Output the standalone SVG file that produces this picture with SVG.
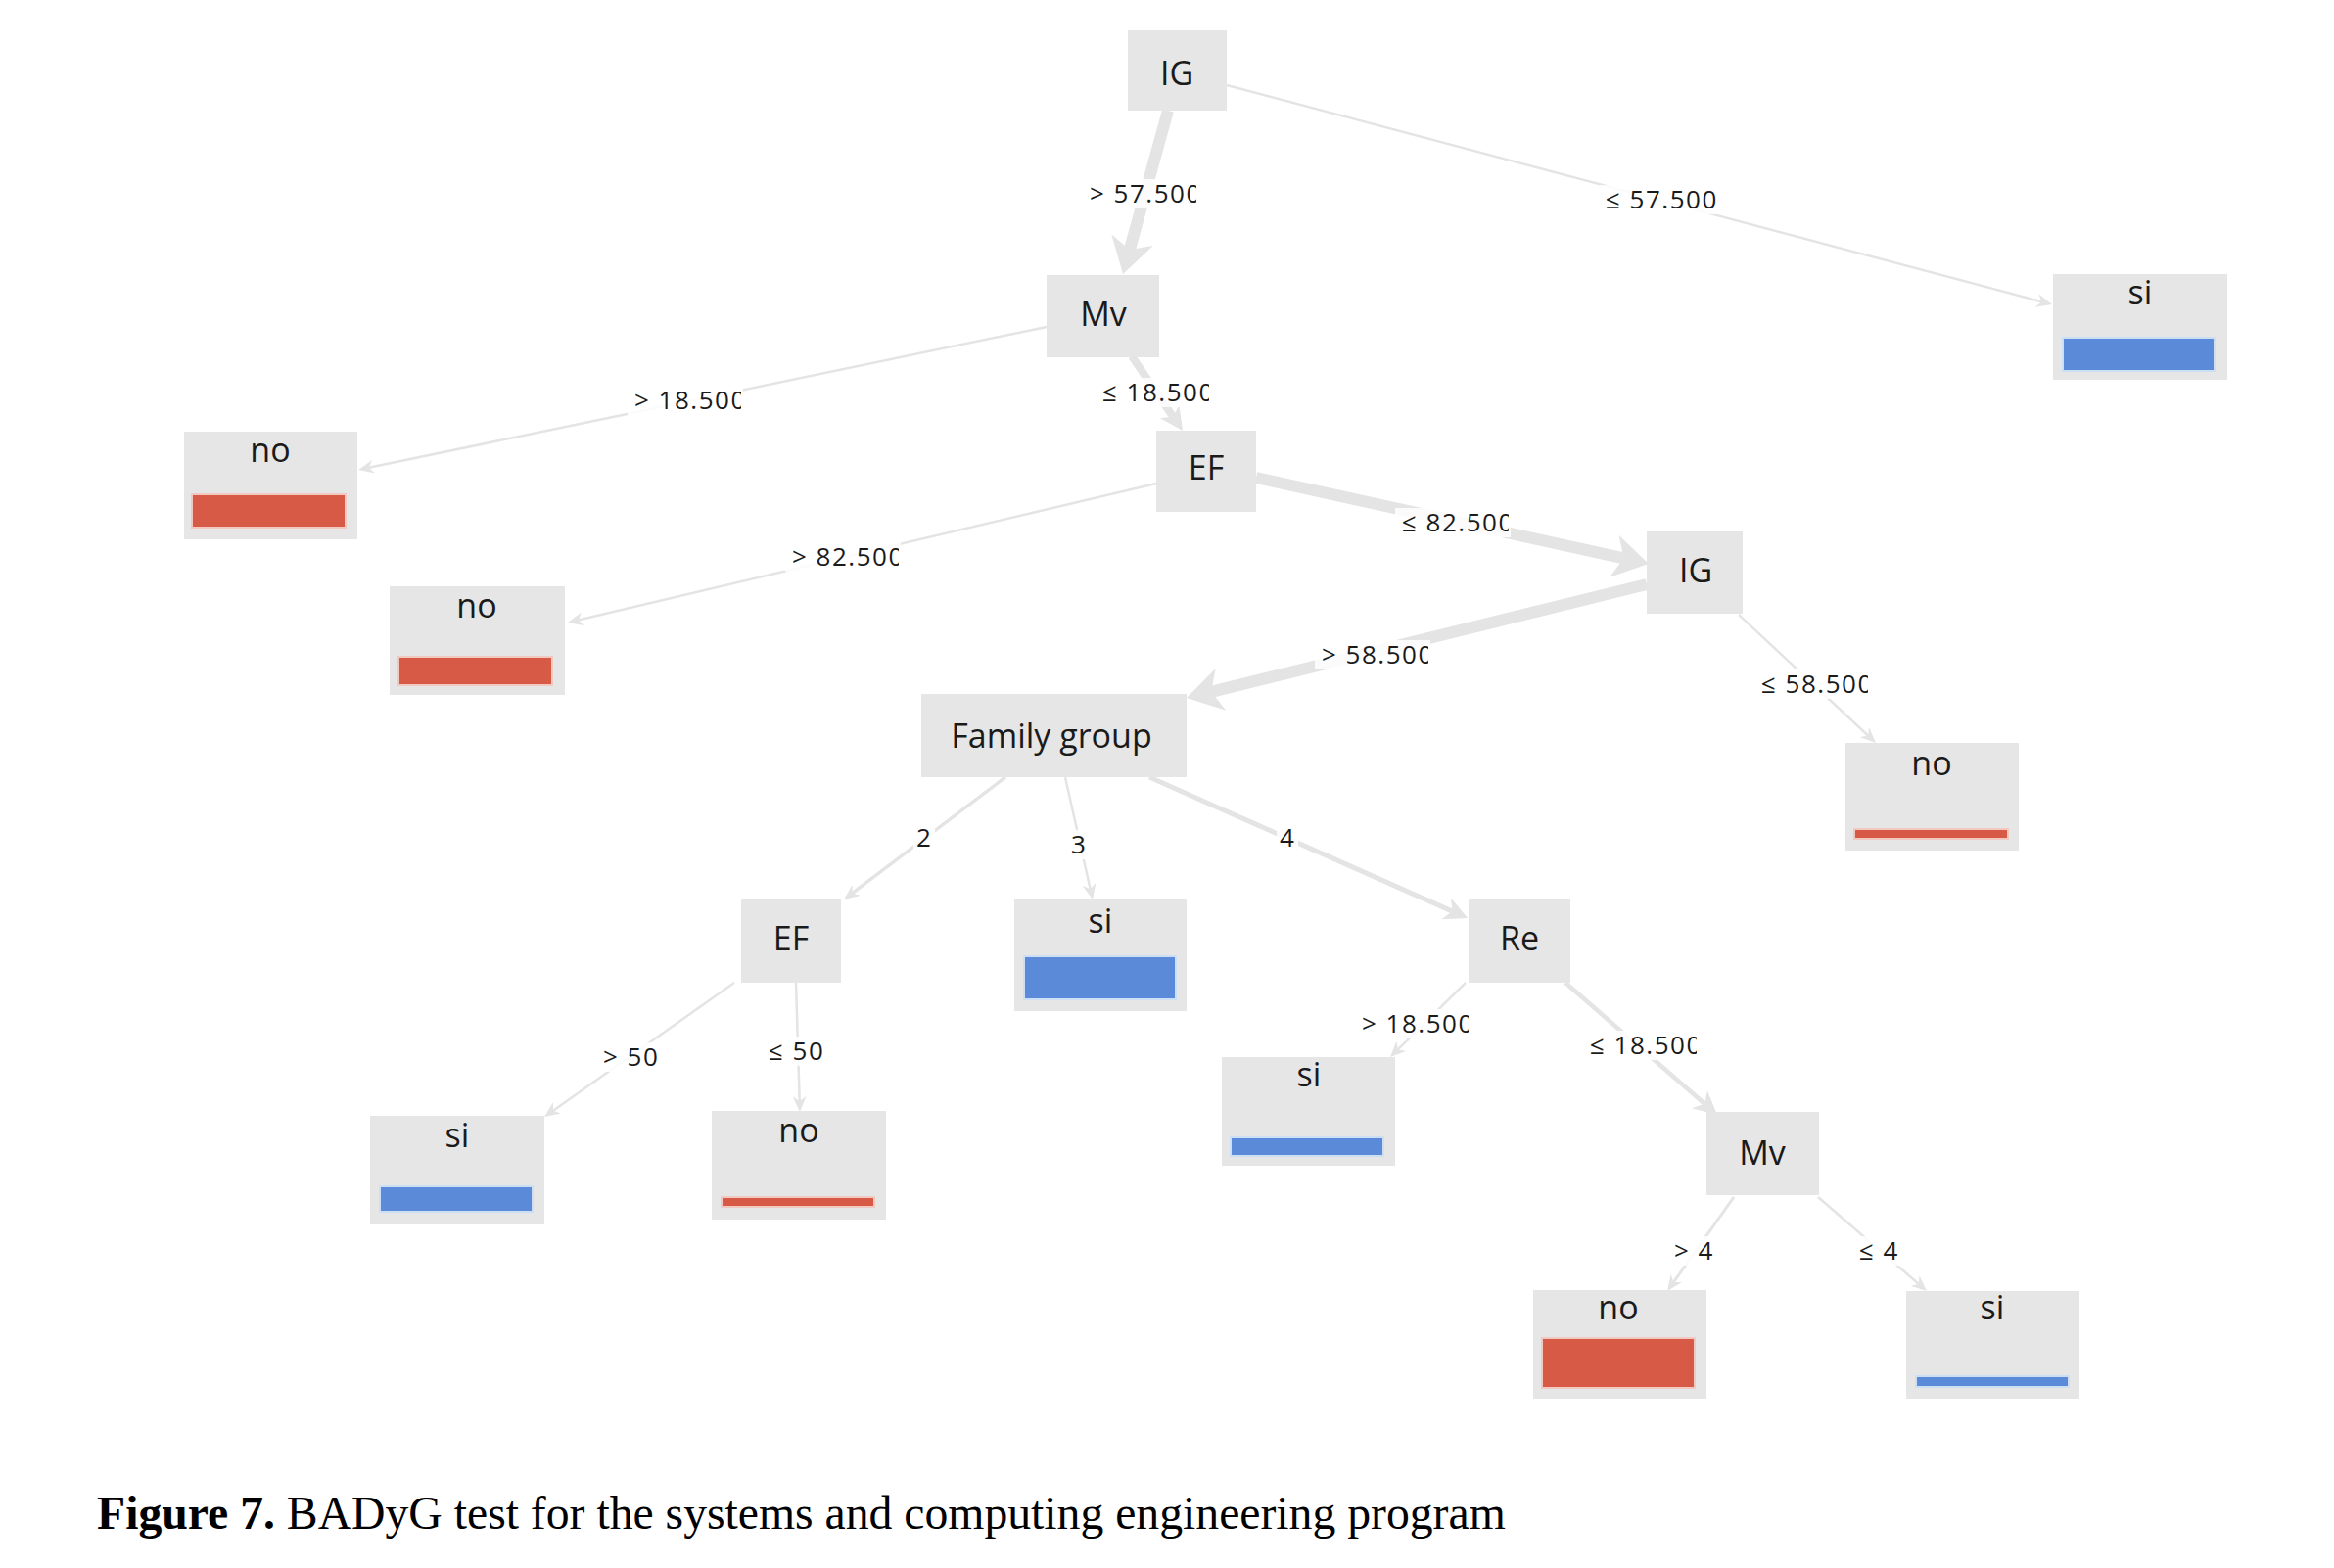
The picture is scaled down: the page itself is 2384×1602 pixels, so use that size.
<svg xmlns="http://www.w3.org/2000/svg" width="2384" height="1602" viewBox="0 0 2384 1602">
<style>
.node{fill:#e6e6e6}
.nl{font-family:"Open Sans","Liberation Sans",sans-serif;font-size:34px;fill:#1a1a1a;text-anchor:middle}
.el{font-family:"Open Sans","Liberation Sans",sans-serif;font-size:26px;letter-spacing:1.5px;fill:#1a1a1a}
.eb{fill:#ffffff;opacity:0.85}
.e{stroke:#e4e4e4;fill:none;stroke-linecap:butt}
.red{fill:#d65a46;stroke:#f2c9c1;stroke-width:2}
.blue{fill:#5b8ad8;stroke:#cddff5;stroke-width:2}
.cap{font-family:"Liberation Serif","Times New Roman",serif;font-size:47.7px;fill:#000}
</style>
<defs>
<marker id="aThick" markerUnits="userSpaceOnUse" markerWidth="36" markerHeight="44" viewBox="0 0 36 44" refX="10" refY="22" orient="auto"><path d="M0,0 L36,22 L0,44 L10,22 z" fill="#e4e4e4"/></marker>
<marker id="aMid" markerUnits="userSpaceOnUse" markerWidth="24" markerHeight="24" viewBox="0 0 24 24" refX="7" refY="12" orient="auto"><path d="M0,0 L24,12 L0,24 L7,12 z" fill="#e4e4e4"/></marker>
<marker id="aThin" markerUnits="userSpaceOnUse" markerWidth="16" markerHeight="14" viewBox="0 0 16 14" refX="5" refY="7" orient="auto"><path d="M0,0 L16,7 L0,14 L5,7 z" fill="#e4e4e4"/></marker>
<clipPath id="c1" clipPathUnits="userSpaceOnUse"><rect x="1103" y="177" width="119" height="40"/></clipPath>
<clipPath id="c3" clipPathUnits="userSpaceOnUse"><rect x="638" y="388" width="119" height="40"/></clipPath>
<clipPath id="c4" clipPathUnits="userSpaceOnUse"><rect x="1116" y="380" width="119" height="40"/></clipPath>
<clipPath id="c5" clipPathUnits="userSpaceOnUse"><rect x="799" y="548" width="119" height="40"/></clipPath>
<clipPath id="c6" clipPathUnits="userSpaceOnUse"><rect x="1422" y="513" width="119" height="40"/></clipPath>
<clipPath id="c7" clipPathUnits="userSpaceOnUse"><rect x="1340" y="648" width="119" height="40"/></clipPath>
<clipPath id="c8" clipPathUnits="userSpaceOnUse"><rect x="1789" y="678" width="119" height="40"/></clipPath>
<clipPath id="c14" clipPathUnits="userSpaceOnUse"><rect x="1381" y="1025" width="119" height="40"/></clipPath>
<clipPath id="c15" clipPathUnits="userSpaceOnUse"><rect x="1614" y="1047" width="119" height="40"/></clipPath>
</defs>
<rect width="2384" height="1602" fill="#ffffff"/>

<g id="connectors">
  <line class="e" x1="1193" y1="113" x2="1153.9" y2="254.9" stroke-width="12" marker-end="url(#aThick)"/>
  <line class="e" x1="1253" y1="87" x2="2085.4" y2="308.2" stroke-width="2.5" marker-end="url(#aThin)"/>
  <line class="e" x1="1069" y1="334" x2="376.8" y2="477.8" stroke-width="2.5" marker-end="url(#aThin)"/>
  <line class="e" x1="1156" y1="364" x2="1198.4" y2="426" stroke-width="8" marker-end="url(#aMid)"/>
  <line class="e" x1="1181" y1="494" x2="590.7" y2="633.5" stroke-width="2.5" marker-end="url(#aThin)"/>
  <line class="e" x1="1283" y1="488" x2="1658.6" y2="570.4" stroke-width="12" marker-end="url(#aThick)"/>
  <line class="e" x1="1682" y1="597" x2="1237.2" y2="706.8" stroke-width="12" marker-end="url(#aThick)"/>
  <line class="e" x1="1776" y1="628" x2="1908" y2="751.5" stroke-width="2.5" marker-end="url(#aThin)"/>
  <line class="e" x1="1027" y1="794" x2="870.8" y2="912.4" stroke-width="3.5" marker-end="url(#aThin)"/>
  <line class="e" x1="1088" y1="794" x2="1113.6" y2="908.3" stroke-width="2.5" marker-end="url(#aThin)"/>
  <line class="e" x1="1174" y1="794" x2="1483.5" y2="931.1" stroke-width="5" marker-end="url(#aMid)"/>
  <line class="e" x1="750" y1="1004" x2="565" y2="1134.7" stroke-width="2.5" marker-end="url(#aThin)"/>
  <line class="e" x1="813" y1="1004" x2="816.7" y2="1125" stroke-width="2.5" marker-end="url(#aThin)"/>
  <line class="e" x1="1497" y1="1004" x2="1427.8" y2="1072.3" stroke-width="2.5" marker-end="url(#aThin)"/>
  <line class="e" x1="1599" y1="1004" x2="1741.2" y2="1127.8" stroke-width="4.5" marker-end="url(#aMid)"/>
  <line class="e" x1="1771" y1="1223" x2="1709.4" y2="1310" stroke-width="3" marker-end="url(#aThin)"/>
  <line class="e" x1="1857" y1="1223" x2="1959.7" y2="1311.8" stroke-width="2.5" marker-end="url(#aThin)"/>

  <g id="edge-labels">
    <rect class="eb" x="1106" y="183" width="118" height="30"/>
    <text class="el" x="1113" y="207" clip-path="url(#c1)">&gt; 57.500</text>
    <rect class="eb" x="1634" y="189" width="124" height="30"/>
    <text class="el" x="1640" y="213">≤ 57.500</text>
    <rect class="eb" x="641" y="394" width="118" height="30"/>
    <text class="el" x="648" y="418" clip-path="url(#c3)">&gt; 18.500</text>
    <rect class="eb" x="1119" y="386" width="118" height="30"/>
    <text class="el" x="1126" y="410" clip-path="url(#c4)">≤ 18.500</text>
    <rect class="eb" x="802" y="554" width="118" height="30"/>
    <text class="el" x="809" y="578" clip-path="url(#c5)">&gt; 82.500</text>
    <rect class="eb" x="1425" y="519" width="118" height="30"/>
    <text class="el" x="1432" y="543" clip-path="url(#c6)">≤ 82.500</text>
    <rect class="eb" x="1343" y="654" width="118" height="30"/>
    <text class="el" x="1350" y="678" clip-path="url(#c7)">&gt; 58.500</text>
    <rect class="eb" x="1792" y="684" width="118" height="30"/>
    <text class="el" x="1799" y="708" clip-path="url(#c8)">≤ 58.500</text>
    <rect class="eb" x="933" y="841" width="22" height="30"/>
    <text class="el" x="936" y="865">2</text>
    <rect class="eb" x="1091" y="848" width="22" height="30"/>
    <text class="el" x="1094" y="872">3</text>
    <rect class="eb" x="1304" y="841" width="22" height="30"/>
    <text class="el" x="1307" y="865">4</text>
    <rect class="eb" x="611" y="1065" width="66" height="30"/>
    <text class="el" x="616" y="1089">&gt; 50</text>
    <rect class="eb" x="780" y="1059" width="66" height="30"/>
    <text class="el" x="785" y="1083">≤ 50</text>
    <rect class="eb" x="1384" y="1031" width="118" height="30"/>
    <text class="el" x="1391" y="1055" clip-path="url(#c14)">&gt; 18.500</text>
    <rect class="eb" x="1617" y="1053" width="118" height="30"/>
    <text class="el" x="1624" y="1077" clip-path="url(#c15)">≤ 18.500</text>
    <rect class="eb" x="1705" y="1263" width="50" height="30"/>
    <text class="el" x="1710" y="1287">&gt; 4</text>
    <rect class="eb" x="1894" y="1263" width="50" height="30"/>
    <text class="el" x="1899" y="1287">≤ 4</text>
  </g>
</g>

<g id="n-ig-root">
  <rect class="node" x="1152" y="31" width="101" height="82"/>
  <text class="nl" x="1202" y="87">IG</text>
</g>
<g id="n-si-top">
  <rect class="node" x="2097" y="280" width="178" height="108"/>
  <text class="nl" x="2186" y="311">si</text>
  <rect class="blue" x="2107" y="345" width="155" height="34"/>
</g>
<g id="n-mv">
  <rect class="node" x="1069" y="281" width="115" height="84"/>
  <text class="nl" x="1127" y="333">Mv</text>
</g>
<g id="n-no-1">
  <rect class="node" x="188" y="441" width="177" height="110"/>
  <text class="nl" x="276" y="472">no</text>
  <rect class="red" x="196" y="505" width="157" height="34"/>
</g>
<g id="n-ef">
  <rect class="node" x="1181" y="440" width="102" height="83"/>
  <text class="nl" x="1232" y="490">EF</text>
</g>
<g id="n-no-2">
  <rect class="node" x="398" y="599" width="179" height="111"/>
  <text class="nl" x="487" y="631">no</text>
  <rect class="red" x="407" y="671" width="157" height="29"/>
</g>
<g id="n-ig-2">
  <rect class="node" x="1682" y="543" width="98" height="84"/>
  <text class="nl" x="1732" y="595">IG</text>
</g>
<g id="n-family">
  <rect class="node" x="941" y="709" width="271" height="85"/>
  <text class="nl" x="1074" y="764">Family group</text>
</g>
<g id="n-no-3">
  <rect class="node" x="1885" y="759" width="177" height="110"/>
  <text class="nl" x="1973" y="792">no</text>
  <rect class="red" x="1894" y="847" width="157" height="10"/>
</g>
<g id="n-ef-2">
  <rect class="node" x="757" y="919" width="102" height="85"/>
  <text class="nl" x="808" y="971">EF</text>
</g>
<g id="n-si-mid">
  <rect class="node" x="1036" y="919" width="176" height="114"/>
  <text class="nl" x="1124" y="953">si</text>
  <rect class="blue" x="1046" y="977" width="155" height="44"/>
</g>
<g id="n-re">
  <rect class="node" x="1500" y="919" width="104" height="85"/>
  <text class="nl" x="1552" y="971">Re</text>
</g>
<g id="n-si-re">
  <rect class="node" x="1248" y="1080" width="177" height="111"/>
  <text class="nl" x="1337" y="1110">si</text>
  <rect class="blue" x="1257" y="1162" width="156" height="19"/>
</g>
<g id="n-mv-2">
  <rect class="node" x="1743" y="1136" width="115" height="85"/>
  <text class="nl" x="1800" y="1190">Mv</text>
</g>
<g id="n-si-ef">
  <rect class="node" x="378" y="1140" width="178" height="111"/>
  <text class="nl" x="467" y="1172">si</text>
  <rect class="blue" x="388" y="1212" width="156" height="26"/>
</g>
<g id="n-no-ef">
  <rect class="node" x="727" y="1135" width="178" height="111"/>
  <text class="nl" x="816" y="1167">no</text>
  <rect class="red" x="737" y="1223" width="156" height="10"/>
</g>
<g id="n-no-4">
  <rect class="node" x="1566" y="1318" width="177" height="111"/>
  <text class="nl" x="1653" y="1348">no</text>
  <rect class="red" x="1575" y="1367" width="156" height="51"/>
</g>
<g id="n-si-4">
  <rect class="node" x="1947" y="1319" width="177" height="110"/>
  <text class="nl" x="2035" y="1348">si</text>
  <rect class="blue" x="1957" y="1406" width="156" height="11"/>
</g>

<text class="cap" x="99" y="1562"><tspan font-weight="bold">Figure 7.</tspan> BADyG test for the systems and computing engineering program</text>
</svg>
